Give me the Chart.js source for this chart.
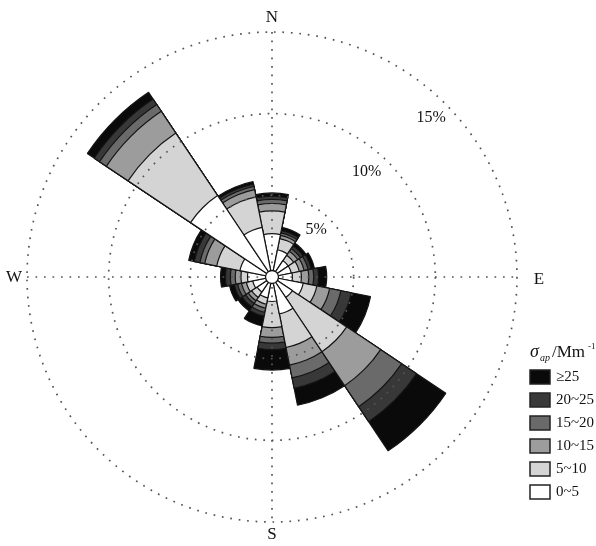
<!DOCTYPE html>
<html>
<head>
<meta charset="utf-8">
<script src="https://cdn.jsdelivr.net/npm/chart.js@4/dist/chart.umd.min.js"></script>
<style>
  html, body { margin: 0; padding: 0; background: #fff; }
  #wrap { width: 596px; height: 546px; position: relative; }
</style>
</head>
<body>
<div id="wrap"><canvas id="rose" width="596" height="546"></canvas></div>
<script>
// Wind directions, clockwise from north
const directions = ['N','NNE','NE','ENE','E','ESE','SE','SSE','S','SSW','SW','WSW','W','WNW','NW','NNW'];

// Frequency (%) of each scattering-coefficient class per wind direction
const bin0to5   = [2.65, 1.70, 1.20, 1.20, 1.25, 1.95, 1.50, 2.30, 1.50, 1.30, 1.10, 1.20, 1.50, 2.00, 6.00, 3.10];
const bin5to10  = [1.40, 0.70, 0.40, 0.50, 0.55, 0.85, 4.00, 2.10, 1.60, 0.40, 0.40, 0.40, 0.40, 1.45, 4.60, 1.90];
const bin10to15 = [0.45, 0.20, 0.30, 0.30, 0.45, 0.80, 2.50, 1.10, 0.60, 0.25, 0.25, 0.30, 0.35, 0.75, 1.60, 0.45];
const bin15to20 = [0.25, 0.15, 0.20, 0.25, 0.30, 0.70, 1.55, 0.80, 0.35, 0.25, 0.20, 0.25, 0.30, 0.30, 0.50, 0.20];
const bin20to25 = [0.20, 0.15, 0.20, 0.20, 0.30, 0.65, 1.10, 0.65, 0.40, 0.25, 0.25, 0.20, 0.30, 0.35, 0.40, 0.15];
const bin25up   = [0.20, 0.20, 0.20, 0.20, 0.50, 1.20, 2.15, 1.05, 1.25, 0.60, 0.30, 0.30, 0.30, 0.35, 0.50, 0.15];

const binLabels = ['0~5', '5~10', '10~15', '15~20', '20~25', '\u226525'];
const binColors = ['#ffffff', '#d4d4d4', '#9c9c9c', '#6a6a6a', '#383838', '#0a0a0a'];
const ringTicks = [5, 10, 15];
const compassLabels = ['N', 'E', 'S', 'W'];

// Stack the classes: each ring is drawn out to its cumulative frequency,
// the innermost class last so it sits on top.
const bins = [bin0to5, bin5to10, bin10to15, bin15to20, bin20to25, bin25up];
const cumulative = [];
bins.forEach((b, k) => {
  cumulative.push(b.map((v, i) => (k === 0 ? 0 : cumulative[k - 1][i]) + v));
});
const datasets = cumulative.map((vals, k) => ({
  label: binLabels[k],
  data: vals,
  backgroundColor: binColors[k],
  borderColor: '#141414',
  borderWidth: 1.2
}));

const SERIF = '"Liberation Serif", "DejaVu Serif", serif';
const DOT_COLOR = '#555';
const DOT_DASH = [1.7, 6.8];

// placement of the ring percentages: bearing (deg) and inset from the ring (px)
const ringLabelPos = [[43, 17], [42, 22], [45, 20]];

const roseDecor = {
  id: 'roseDecor',
  afterDatasetsDraw(chart) {
    const s = chart.scales.r, ctx = chart.ctx;
    const cx = s.xCenter, cy = s.yCenter, R = s.drawingArea;
    ctx.save();
    // N-S and E-W dotted axes
    ctx.strokeStyle = DOT_COLOR;
    ctx.lineWidth = 1.7;
    ctx.setLineDash(DOT_DASH);
    ctx.beginPath();
    ctx.moveTo(cx - R, cy); ctx.lineTo(cx + R, cy);
    ctx.moveTo(cx, cy - R); ctx.lineTo(cx, cy + R);
    ctx.stroke();
    ctx.setLineDash([]);
    // calm circle at the centre
    ctx.beginPath();
    ctx.arc(cx, cy, 6.5, 0, Math.PI * 2);
    ctx.fillStyle = '#fff';
    ctx.fill();
    ctx.strokeStyle = '#141414';
    ctx.lineWidth = 1.3;
    ctx.stroke();
    ctx.restore();
  },
  afterDraw(chart) {
    const s = chart.scales.r, ctx = chart.ctx;
    const cx = s.xCenter, cy = s.yCenter, R = s.drawingArea;
    ctx.save();
    ctx.fillStyle = '#111';
    ctx.textAlign = 'center';
    ctx.textBaseline = 'middle';
    ctx.font = '17px ' + SERIF;
    // compass letters
    const off = [[0, -R - 14], [R + 22, 3], [0, R + 13], [-R - 13, 1]];
    compassLabels.forEach((t, i) => ctx.fillText(t, cx + off[i][0], cy + off[i][1]));
    // ring percentages
    ctx.font = '16px ' + SERIF;
    ringTicks.forEach((v, i) => {
      const ang = ringLabelPos[i][0] * Math.PI / 180;
      const r = s.getDistanceFromCenterForValue(v) - ringLabelPos[i][1];
      ctx.fillText(v + '%', cx + r * Math.sin(ang), cy - r * Math.cos(ang));
    });

    // legend
    const lx = 530, ly = 357;
    ctx.textAlign = 'left';
    ctx.textBaseline = 'alphabetic';
    ctx.font = 'italic 18px ' + SERIF;
    ctx.fillText('\u03c3', lx, ly);
    ctx.font = 'italic 10px ' + SERIF;
    ctx.fillText('ap', lx + 10, ly + 4);
    ctx.font = '17px ' + SERIF;
    ctx.fillText('/Mm', lx + 22, ly);
    ctx.font = '9px ' + SERIF;
    ctx.fillText('-1', lx + 58, ly - 8);

    ctx.font = '15px ' + SERIF;
    ctx.textBaseline = 'middle';
    for (let k = bins.length - 1, row = 0; k >= 0; k--, row++) {
      const y = 370 + row * 23;
      ctx.fillStyle = binColors[k];
      ctx.fillRect(lx, y, 20, 14);
      ctx.strokeStyle = '#222';
      ctx.lineWidth = 1.5;
      ctx.strokeRect(lx, y, 20, 14);
      ctx.fillStyle = '#111';
      ctx.fillText(binLabels[k], lx + 26, y + 7.5);
    }
    ctx.restore();
  }
};

new Chart(document.getElementById('rose'), {
  type: 'polarArea',
  data: { labels: directions, datasets: datasets },
  options: {
    responsive: false,
    animation: false,
    layout: { padding: { left: 27, right: 79, top: 32, bottom: 24 } },
    plugins: { legend: { display: false }, tooltip: { enabled: false } },
    scales: {
      r: {
        min: 0,
        max: 15,
        startAngle: -11.25,
        ticks: { display: false, stepSize: 5 },
        grid: { circular: true, color: DOT_COLOR, lineWidth: 1.7, z: 1 },
        border: { dash: DOT_DASH },
        angleLines: { display: false },
        pointLabels: { display: false }
      }
    }
  },
  plugins: [roseDecor]
});
</script>
</body>
</html>
